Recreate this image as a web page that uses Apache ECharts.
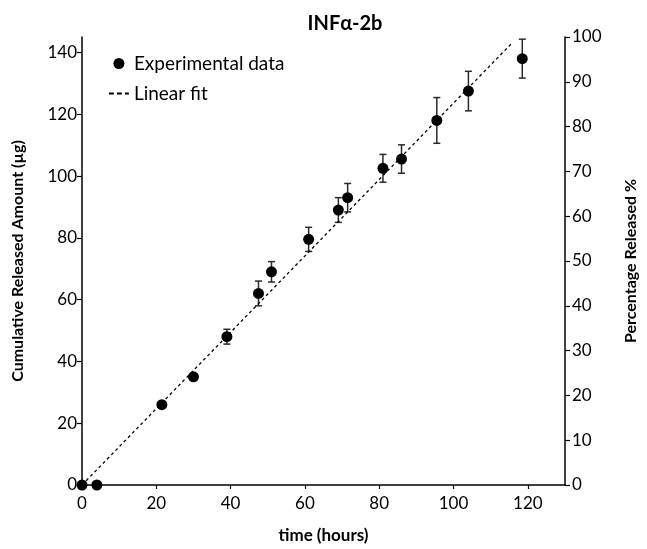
<!DOCTYPE html>
<html>
<head>
<meta charset="utf-8">
<script src="https://cdn.jsdelivr.net/npm/echarts@6/dist/echarts.min.js"></script>
<style>
    html, body { margin: 0; padding: 0; background: #fff; }
    #chart { width: 647px; height: 549px; }
</style>
</head>
<body>
<div id="chart"></div>
<script>
// data
const timeHours = [0, 4, 21.5, 30, 39, 47.5, 51, 61, 69, 71.5, 81, 86, 95.5, 104, 118.5];
const releasedUg = [0, 0, 26, 35, 48, 62, 69, 79.5, 89, 93, 102.5, 105.5, 118, 127.5, 138];
const errorUg = [0, 0, 0.6, 0.8, 2.4, 4, 3.3, 3.9, 4, 4.6, 4.5, 4.6, 7.4, 6.4, 6.3];

// linear fit endpoints
const fitX = [0, 115.7];
const fitY = [0, 143];

const xTicks = [0, 20, 40, 60, 80, 100, 120];
const leftTicks = [0, 20, 40, 60, 80, 100, 120, 140];
const rightTicks = [0, 10, 20, 30, 40, 50, 60, 70, 80, 90, 100];

const FONT = 'Lato';

const points = timeHours.map((t, i) => [t, releasedUg[i]]);
const errors = timeHours.map((t, i) => [t, releasedUg[i], errorUg[i]]);
const fitLine = fitX.map((x, i) => [x, fitY[i]]);

const axisLineStyle = { color: '#000', width: 1.5 };

const myEcharts = echarts.init(document.getElementById('chart'));

const option = {
    animation: false,
    title: {
        text: 'INFα-2b',
        left: 340,
        top: 9,
        textAlign: 'center',
        textStyle: {
            fontFamily: FONT,
            fontWeight: 'bold',
            fontSize: 20,
            color: '#000'
        }
    },
    legend: {
        orient: 'vertical',
        left: 103,
        top: 49,
        itemWidth: 20,
        itemHeight: 11,
        itemGap: 11,
        data: [
            { name: 'Experimental data' },
            // the fit line gets no marker in its legend entry, just dashes
            {
                name: 'Linear fit',
                itemStyle: { color: 'rgba(0,0,0,0)', opacity: 0 },
                lineStyle: { type: [5, 3], width: 1.8 }
            }
        ],
        textStyle: {
            fontFamily: FONT,
            fontSize: 19,
            color: '#000'
        }
    },
    grid: {
        left: 82,
        right: 60,
        top: 37,
        bottom: 60
    },
    xAxis: {
        type: 'value',
        min: 0,
        max: 130,
        interval: 20,
        name: 'time (hours)',
        nameLocation: 'middle',
        nameGap: 42,
        nameTextStyle: {
            fontFamily: FONT,
            fontWeight: 'bold',
            fontSize: 17,
            color: '#000'
        },
        axisLine: { lineStyle: axisLineStyle },
        axisTick: { length: 4, lineStyle: { color: '#000', width: 1.2 } },
        axisLabel: {
            showMaxLabel: false,
            margin: 10,
            fontFamily: FONT,
            fontSize: 17,
            color: '#000',
            formatter: v => (xTicks.includes(v) ? String(v) : '')
        },
        splitLine: { show: false }
    },
    yAxis: [{
        type: 'value',
        min: 0,
        max: 145,
        interval: 20,
        position: 'left',
        name: 'Cumulative Released Amount (µg)',
        nameLocation: 'middle',
        nameGap: 56,
        nameTextStyle: {
            fontFamily: FONT,
            fontWeight: 'bold',
            fontSize: 16,
            color: '#000'
        },
        axisLine: { show: true, lineStyle: axisLineStyle },
        axisTick: { show: true, length: 5, lineStyle: { color: '#000', width: 1.2 } },
        axisLabel: {
            showMaxLabel: false,
            margin: 5,
            fontFamily: FONT,
            fontSize: 17,
            color: '#000',
            formatter: v => (leftTicks.includes(v) ? String(v) : '')
        },
        splitLine: { show: false }
    }, {
        type: 'value',
        min: 0,
        max: 100,
        interval: 10,
        position: 'right',
        name: 'Percentage Released %',
        nameLocation: 'middle',
        nameGap: 58,
        nameRotate: 90,
        nameTextStyle: {
            fontFamily: FONT,
            fontWeight: 'bold',
            fontSize: 16,
            color: '#000'
        },
        axisLine: { show: true, lineStyle: axisLineStyle },
        axisTick: { show: true, length: 5, lineStyle: { color: '#000', width: 1.2 } },
        axisLabel: {
            margin: 7,
            fontFamily: FONT,
            fontSize: 17,
            color: '#000',
            formatter: v => (rightTicks.includes(v) ? String(v) : '')
        },
        splitLine: { show: false }
    }],
    series: [{
        // error bars
        type: 'custom',
        name: 'errors',
        yAxisIndex: 0,
        data: errors,
        z: 2,
        renderItem(params, api) {
            const x = api.value(0);
            const y = api.value(1);
            const e = api.value(2);
            if (!e) return null;
            const hi = api.coord([x, y + e]);
            const lo = api.coord([x, y - e]);
            const w = 3.5;
            const style = { stroke: '#2a2a2a', lineWidth: 1.5 };
            return {
                type: 'group',
                children: [
                    { type: 'line', shape: { x1: hi[0], y1: hi[1], x2: lo[0], y2: lo[1] }, style },
                    { type: 'line', shape: { x1: hi[0] - w, y1: hi[1], x2: hi[0] + w, y2: hi[1] }, style },
                    { type: 'line', shape: { x1: lo[0] - w, y1: lo[1], x2: lo[0] + w, y2: lo[1] }, style }
                ]
            };
        }
    }, {
        type: 'line',
        name: 'Linear fit',
        yAxisIndex: 0,
        data: fitLine,
        symbol: 'none',
        z: 3,
        lineStyle: { color: '#000', width: 1.3, type: [3, 3] },
        itemStyle: { color: '#000' }
    }, {
        type: 'scatter',
        name: 'Experimental data',
        yAxisIndex: 0,
        data: points,
        symbol: 'circle',
        symbolSize: 11,
        z: 4,
        itemStyle: { color: '#000', opacity: 1 }
    }]
};

myEcharts.setOption(option);
</script>
</body>
</html>
